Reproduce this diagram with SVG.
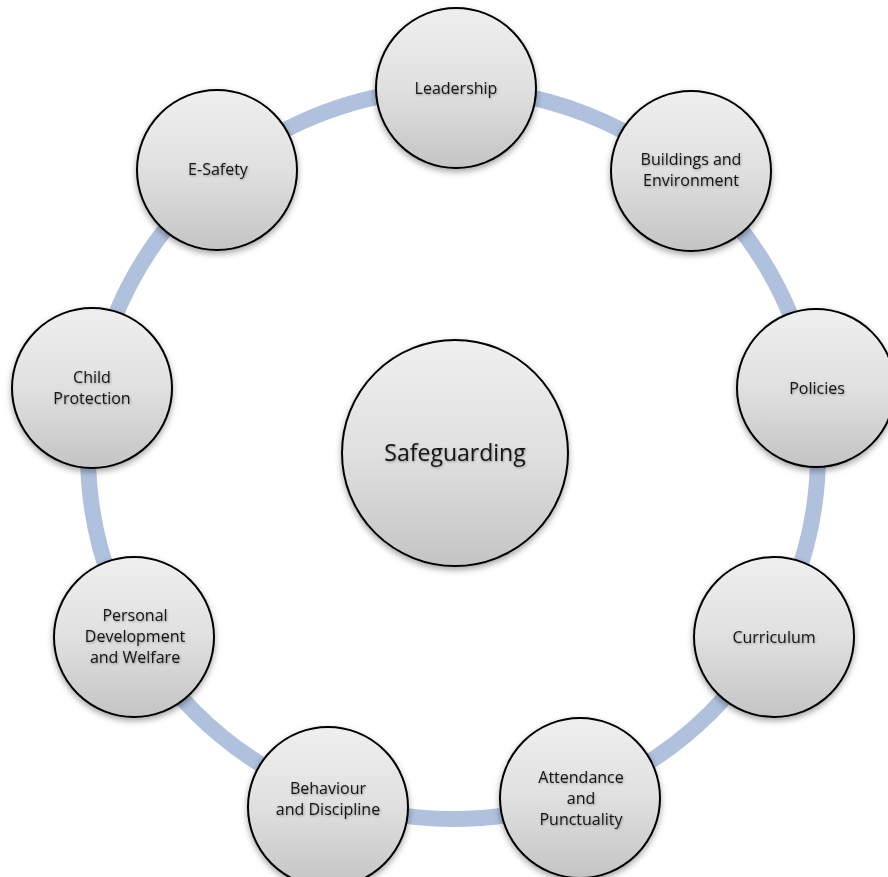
<svg xmlns="http://www.w3.org/2000/svg" width="888" height="877" viewBox="0 0 888 877">
  <defs>
    <linearGradient id="g" x1="0" y1="0" x2="0" y2="1">
      <stop offset="0" stop-color="#EFEFEF"/>
      <stop offset="0.5" stop-color="#E0E0E0"/>
      <stop offset="1" stop-color="#C4C4C4"/>
    </linearGradient>
    <filter id="sh" x="-20%" y="-20%" width="140%" height="150%">
      <feDropShadow dx="0" dy="3" stdDeviation="3" flood-color="#000" flood-opacity="0.35"/>
    </filter>
    <filter id="ts" x="-10%" y="-30%" width="120%" height="160%">
      <feDropShadow dx="0.7" dy="1" stdDeviation="0.8" flood-color="#000" flood-opacity="0.35"/>
    </filter>
  </defs>
  <style>
    .n { fill: url(#g); stroke: #000; stroke-width: 2; filter: url(#sh); }
    .t { font-family: "Open Sans", "Liberation Sans", sans-serif; font-size: 16px; fill: #141414; text-anchor: middle; filter: url(#ts); }
    .big { font-size: 23px; }
  </style>
  <rect width="888" height="877" fill="#FFFFFF"/>
  <g id="connectors">
    <circle cx="453" cy="454" r="365" fill="none" stroke="#AFC1DD" stroke-width="16"/>
  </g>
  <g id="safeguarding">
    <circle class="n" cx="455" cy="453" r="113"/>
    <text class="t big" x="455" y="461">Safeguarding</text>
  </g>
  <g id="leadership">
    <circle class="n" cx="456" cy="88" r="80"/>
    <text class="t" x="456" y="94">Leadership</text>
  </g>
  <g id="buildings">
    <circle class="n" cx="691" cy="171" r="80"/>
    <text class="t" x="691" y="165">Buildings and</text>
    <text class="t" x="691" y="186">Environment</text>
  </g>
  <g id="policies">
    <circle class="n" cx="816" cy="388" r="79"/>
    <text class="t" x="817" y="394">Policies</text>
  </g>
  <g id="curriculum">
    <circle class="n" cx="774" cy="637" r="80"/>
    <text class="t" x="774" y="643">Curriculum</text>
  </g>
  <g id="attendance">
    <circle class="n" cx="580" cy="798" r="80"/>
    <text class="t" x="581" y="783">Attendance</text>
    <text class="t" x="581" y="804">and</text>
    <text class="t" x="581" y="825">Punctuality</text>
  </g>
  <g id="behaviour">
    <circle class="n" cx="328" cy="807" r="80"/>
    <text class="t" x="328" y="794">Behaviour</text>
    <text class="t" x="328" y="815">and Discipline</text>
  </g>
  <g id="personal">
    <circle class="n" cx="134" cy="637" r="80"/>
    <text class="t" x="135" y="621">Personal</text>
    <text class="t" x="135" y="642">Development</text>
    <text class="t" x="135" y="663">and Welfare</text>
  </g>
  <g id="child-protection">
    <circle class="n" cx="92" cy="388" r="80"/>
    <text class="t" x="92" y="383">Child</text>
    <text class="t" x="92" y="404">Protection</text>
  </g>
  <g id="esafety">
    <circle class="n" cx="217" cy="170" r="80"/>
    <text class="t" x="218" y="175">E-Safety</text>
  </g>
</svg>
